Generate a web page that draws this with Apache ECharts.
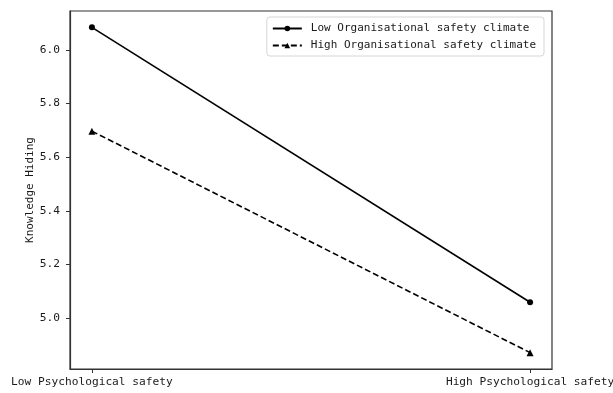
<!DOCTYPE html>
<html>
<head>
<meta charset="utf-8">
<script src="https://cdn.jsdelivr.net/npm/echarts@6/dist/echarts.min.js"></script>
<style>
  html, body { margin: 0; padding: 0; background: #fff; }
  #chart { width: 613px; height: 393px; }
</style>
</head>
<body>
<div id="chart"></div>
<script>
// Simple-slopes plot: knowledge hiding at low / high psychological safety
const xPositions = [0, 1];
const xLabels = ['Low Psychological safety', 'High Psychological safety'];
const seriesNames = ['Low Organisational safety climate', 'High Organisational safety climate'];
const lowClimate = [6.084, 5.059];
const highClimate = [5.697, 4.871];
const yTicks = [5.0, 5.2, 5.4, 5.6, 5.8, 6.0];
const yAxisTitle = 'Knowledge Hiding';

const FONT = 'DejaVu Sans Mono';
const INK = '#1a1a1a';

const chart = echarts.init(document.getElementById('chart'), null, { renderer: 'canvas' });

const toPairs = vals => xPositions.map((x, i) => [x, vals[i]]);

chart.setOption({
  animation: false,
  backgroundColor: '#fff',
  textStyle: { fontFamily: FONT, color: INK },
  grid: {
    left: 70, top: 11, right: 61, bottom: 24,
    outerBoundsMode: 'none',
    containLabel: false,
    show: true, borderColor: '#333', borderWidth: 1.2
  },
  legend: {
    right: 69, top: 17,
    orient: 'vertical',
    itemGap: 6,
    itemWidth: 29, itemHeight: 7,
    padding: [6, 8, 5, 5],
    borderColor: '#d6d6d6', borderWidth: 1, borderRadius: 3,
    backgroundColor: 'rgba(255,255,255,0.9)',
    textStyle: { fontFamily: FONT, fontSize: 11, color: INK, padding: [0, 0, 0, 4] },
    data: seriesNames
  },
  xAxis: {
    type: 'value',
    min: -0.05, max: 1.05,
    splitLine: { show: false },
    axisLine: { show: true, onZero: false, lineStyle: { color: '#333', width: 1.2 } },
    axisTick: { show: true, length: 4, customValues: xPositions, lineStyle: { color: '#333' } },
    axisLabel: {
      customValues: xPositions,
      margin: 8,
      fontFamily: FONT, fontSize: 11.2, color: INK,
      formatter: v => xLabels[Math.round(v)]
    }
  },
  yAxis: {
    type: 'value',
    min: 4.81, max: 6.145,
    name: yAxisTitle,
    nameLocation: 'middle',
    nameGap: 34,
    nameMoveOverlap: false,
    nameTextStyle: { fontFamily: FONT, fontSize: 11, color: INK },
    splitLine: { show: false },
    axisLine: { show: true, onZero: false, lineStyle: { color: '#333', width: 1.2 } },
    axisTick: { show: true, length: 4, customValues: yTicks, lineStyle: { color: '#333' } },
    axisLabel: {
      customValues: yTicks,
      margin: 10,
      fontFamily: FONT, fontSize: 11.2, color: INK,
      formatter: v => v.toFixed(1)
    }
  },
  series: [
    {
      name: seriesNames[0],
      type: 'line',
      data: toPairs(lowClimate),
      symbol: 'circle', symbolSize: 6,
      itemStyle: { color: '#000' },
      lineStyle: { color: '#000', width: 1.6, type: 'solid' }
    },
    {
      name: seriesNames[1],
      type: 'line',
      data: toPairs(highClimate),
      symbol: 'triangle', symbolSize: 7,
      itemStyle: { color: '#000' },
      lineStyle: { color: '#000', width: 1.6, type: [6, 3] }
    }
  ]
});
</script>
</body>
</html>
